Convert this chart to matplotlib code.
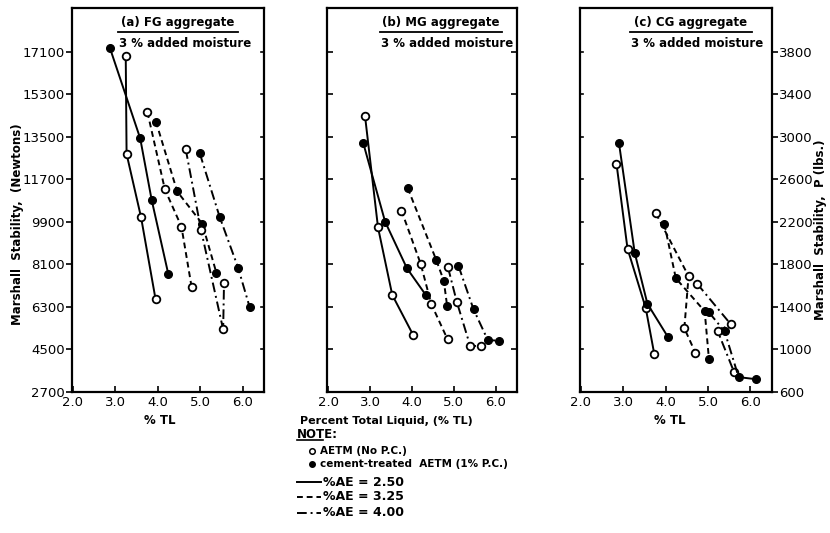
import matplotlib
matplotlib.use('Agg')
import matplotlib.pyplot as plt
from matplotlib.lines import Line2D

W, H = 830, 533  # output size in pixels

# %AE levels (one line style each)
ae_levels = ['2.50', '3.25', '4.00']

# (a) FG aggregate, stability in Newtons
fg_open_tl = [[3.25, 3.27, 3.61, 3.95], [3.76, 4.17, 4.56, 4.80], [4.66, 5.02, 5.54, 5.56]]
fg_open_st = [[16930, 12780, 10100, 6640], [14550, 11280, 9700, 7130], [12980, 9560, 5350, 7300]]
fg_pc_tl = [[2.88, 3.59, 3.86, 4.25], [3.96, 4.46, 5.05, 5.38], [4.99, 5.46, 5.89, 6.16]]
fg_pc_st = [[17260, 13440, 10830, 7700], [14150, 11190, 9820, 7750], [12810, 10100, 7970, 6310]]

# (b) MG aggregate, stability in Newtons
mg_open_tl = [[2.88, 3.19, 3.53, 4.03], [3.75, 4.21, 4.46, 4.85], [4.86, 5.07, 5.39, 5.65]]
mg_open_st = [[14390, 9670, 6810, 5110], [10380, 8120, 6430, 4930], [7980, 6520, 4650, 4650]]
mg_pc_tl = [[2.84, 3.36, 3.88, 4.33], [3.90, 4.58, 4.76, 4.84], [5.11, 5.47, 5.81, 6.08]]
mg_pc_st = [[13230, 9910, 7940, 6810], [11330, 8290, 7410, 6340], [8040, 6200, 4900, 4870]]

# (c) CG aggregate, stability in lbs
cg_open_tl = [[2.84, 3.10, 3.53, 3.73], [3.77, 4.54, 4.44, 4.70], [4.74, 5.53, 5.23, 5.61]]
cg_open_st = [[2750, 1950, 1390, 960], [2280, 1690, 1200, 970], [1620, 1240, 1170, 790]]
cg_pc_tl = [[2.90, 3.27, 3.57, 4.05], [3.97, 4.24, 4.92, 5.02], [5.02, 5.39, 5.72, 6.14]]
cg_pc_st = [[2940, 1910, 1430, 1120], [2180, 1670, 1360, 910], [1350, 1170, 740, 720]]

tl_ticks = [2.0, 3.0, 4.0, 5.0, 6.0]
newton_ticks = [2700, 4500, 6300, 8100, 9900, 11700, 13500, 15300, 17100]
lbs_ticks = [600, 1000, 1400, 1800, 2200, 2600, 3000, 3400, 3800]

styles = ['-', (0, (3, 2)), (0, (5, 2, 1, 2))]

plt.rcParams['font.family'] = ['DejaVu Sans']
fig = plt.figure(figsize=(W / 100, H / 100), dpi=100)


def fx(x):
    return x / W


def fy(y):
    return 1 - y / H


def txt(x, y, s, **kw):
    kw.setdefault('fontsize', 8.5)
    kw.setdefault('fontweight', 'bold')
    kw.setdefault('va', 'center')
    fig.text(fx(x), fy(y), s, **kw)


def hline(x0, x1, y, ls='-', lw=1.3):
    fig.add_artist(Line2D([fx(x0), fx(x1)], [fy(y), fy(y)], color='k', lw=lw,
                          linestyle=ls, transform=fig.transFigure))


bot, hgt = fy(392), 384 / H
ax_a = fig.add_axes([fx(71.7), bot, 192.3 / W, hgt])
ax_b = fig.add_axes([fx(327.3), bot, 189.4 / W, hgt])
ax_c = fig.add_axes([fx(580), bot, 191.7 / W, hgt])

panels = [
    (ax_a, fg_open_tl, fg_open_st, fg_pc_tl, fg_pc_st),
    (ax_b, mg_open_tl, mg_open_st, mg_pc_tl, mg_pc_st),
    (ax_c, cg_open_tl, cg_open_st, cg_pc_tl, cg_pc_st),
]

for ax, o_tl, o_st, p_tl, p_st in panels:
    for i in range(len(ae_levels)):
        ax.plot(o_tl[i], o_st[i], color='k', lw=1.4, linestyle=styles[i],
                marker='o', ms=5.5, mfc='white', mec='k', mew=1.3)
        ax.plot(p_tl[i], p_st[i], color='k', lw=1.4, linestyle=styles[i],
                marker='o', ms=5.5, mfc='k', mec='k')
    ax.set_xticks(tl_ticks)
    ax.set_xticklabels(['%.1f' % t for t in tl_ticks], fontsize=9.5)
    ax.tick_params(axis='x', direction='in', length=4, width=1.2, pad=3)
    for sp in ax.spines.values():
        sp.set_linewidth(1.6)

for ax in (ax_a, ax_b):
    ax.set_ylim(2700, 18960)
    ax.set_yticks(newton_ticks)
ax_c.set_ylim(600, 4214)
ax_c.set_yticks(lbs_ticks)

ax_a.set_yticklabels([str(t) for t in newton_ticks], fontsize=9.5)
ax_a.tick_params(axis='y', direction='out', length=4, width=1.2, pad=1)
ax_b.tick_params(axis='y', direction='in', left=True, right=True, labelleft=False,
                 length=4, width=1.2)
ax_c.yaxis.tick_right()
ax_c.set_yticklabels([str(t) for t in lbs_ticks], fontsize=9.5)
ax_c.tick_params(axis='y', direction='out', length=4, width=1.2, pad=1)
# inward ticks on the left side of (c) and right side of (a)
for t in lbs_ticks:
    ax_c.plot([1.98, 2.05], [t, t], color='k', lw=1.2, clip_on=False)
for t in newton_ticks:
    ax_a.plot([6.43, 6.5], [t, t], color='k', lw=1.2, clip_on=False)
for ax in (ax_a, ax_b, ax_c):
    ax.set_xlim(1.98, 6.5)

# panel headings
for cx, x0, x1, s in [(178, 118, 238, '(a) FG aggregate'),
                      (441, 380, 502, '(b) MG aggregate'),
                      (691, 630, 752, '(c) CG aggregate')]:
    txt(cx, 22, s, ha='center')
    hline(x0, x1, 32)
    txt(x0 + 1, 43, '3 % added moisture', ha='left')

# axis labels
txt(18, 224, 'Marshall  Stability,  (Newtons)', rotation=90, ha='center')
txt(820, 230, 'Marshall  Stability,  P (lbs.)', rotation=90, ha='center')
txt(160, 421, '% TL', ha='center')
txt(386, 421, 'Percent Total Liquid, (% TL)', ha='center', fontsize=8)
txt(670, 421, '% TL', ha='center')

# note / key
txt(297, 434, 'NOTE:', ha='left')
hline(297, 323, 440, lw=1.2)
fig.add_artist(Line2D([fx(312)], [fy(451)], marker='o', ms=4, mfc='white', mec='k',
                      mew=1.1, transform=fig.transFigure))
txt(320, 451, 'AETM (No P.C.)', ha='left', fontsize=7.5)
fig.add_artist(Line2D([fx(312)], [fy(464)], marker='o', ms=4, mfc='k', mec='k',
                      transform=fig.transFigure))
txt(320, 464, 'cement-treated  AETM (1% P.C.)', ha='left', fontsize=7.5)
for k, (yy, ae) in enumerate(zip([482, 497, 513], ae_levels)):
    hline(297, 321, yy, ls=styles[k], lw=1.4)
    txt(323, yy, '%AE = ' + ae, ha='left', fontsize=9)

fig.savefig('out.png', dpi=100)
